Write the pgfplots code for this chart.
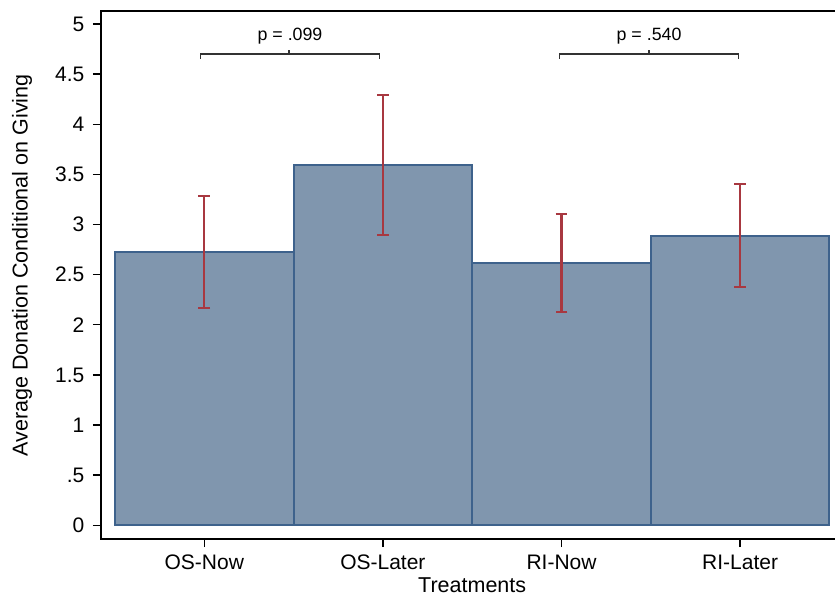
\documentclass[border=0pt]{standalone}
\usepackage{pgfplots}
\usepackage{pgfplotstable}
\pgfplotsset{compat=1.18}
\usepackage{fontspec}
\setmainfont{Liberation Sans}
\definecolor{barfill}{RGB}{128,150,174}
\definecolor{baredge}{RGB}{62,98,140}
\definecolor{errred}{RGB}{168,56,64}
\definecolor{brk}{RGB}{50,50,50}
\pgfplotstableread{
x  y      ep     em
1  2.723  0.561  0.559
2  3.594  0.701  0.699
3  2.613  0.492  0.483
4  2.885  0.519  0.508
}\datatable
\begin{document}
\begin{tikzpicture}
\clip (-101pt,-59pt) rectangle (734pt,539pt);
\begin{axis}[
 at={(0pt,0pt)}, anchor=south west, scale only axis,
 width=742.4pt, height=528.3pt,
 xmin=0.422, xmax=4.578, ymin=-0.137, ymax=5.133,
 xtick={1,2,3,4}, xticklabels={OS-Now,OS-Later,RI-Now,RI-Later},
 ytick={0,0.5,...,5}, yticklabels={0,.5,1,1.5,2,2.5,3,3.5,4,4.5,5},
 xtick pos=bottom, ytick pos=left,
 tick align=outside, major tick length=8pt,
 major tick style={line width=1.4pt, black},
 axis line style={line width=2pt, black},
 /pgf/number format/assume math mode=true,
 tick label style={font=\fontsize{21}{24}\selectfont, inner sep=0pt},
 xticklabel style={anchor=base, yshift=-22pt},
 yticklabel style={anchor=east, xshift=-8.5pt},
 xlabel={Treatments}, ylabel={Average Donation Conditional on Giving},
 every axis x label/.style={at={(axis description cs:0.5,-0.1022)}, anchor=base, font=\fontsize{21.5}{24}\selectfont},
 every axis y label/.style={at={(axis description cs:-0.1064,0.5177)}, anchor=center, rotate=90, font=\fontsize{21.5}{24}\selectfont},
]
\addplot[ybar, bar width=1, bar shift=0pt, fill=barfill, draw=baredge, line width=2pt]
  table[x=x, y=y] {\datatable};
\addplot[draw=none, mark=none, forget plot,
  error bars/.cd, y dir=both, y explicit,
  error bar style={draw=errred, line width=2.2pt},
  error mark options={draw=errred, line width=2pt, rotate=90, mark size=5.8pt}]
  table[x=x, y=y, y error plus=ep, y error minus=em] {\datatable};
\addplot[brk, line width=1.5pt, mark=none] coordinates {(0.98,4.655) (0.98,4.70) (1.98,4.70) (1.98,4.655)};
\addplot[brk, line width=1.5pt, mark=none] coordinates {(1.475,4.70) (1.475,4.74)};
\addplot[brk, line width=1.5pt, mark=none] coordinates {(2.99,4.655) (2.99,4.70) (3.99,4.70) (3.99,4.655)};
\addplot[brk, line width=1.5pt, mark=none] coordinates {(3.49,4.70) (3.49,4.74)};
\node[font=\fontsize{17.8}{20}\selectfont, anchor=base] at (axis cs:1.48,4.84) {p = .099};
\node[font=\fontsize{17.8}{20}\selectfont, anchor=base] at (axis cs:3.49,4.84) {p = .540};
\end{axis}
\end{tikzpicture}
\end{document}
